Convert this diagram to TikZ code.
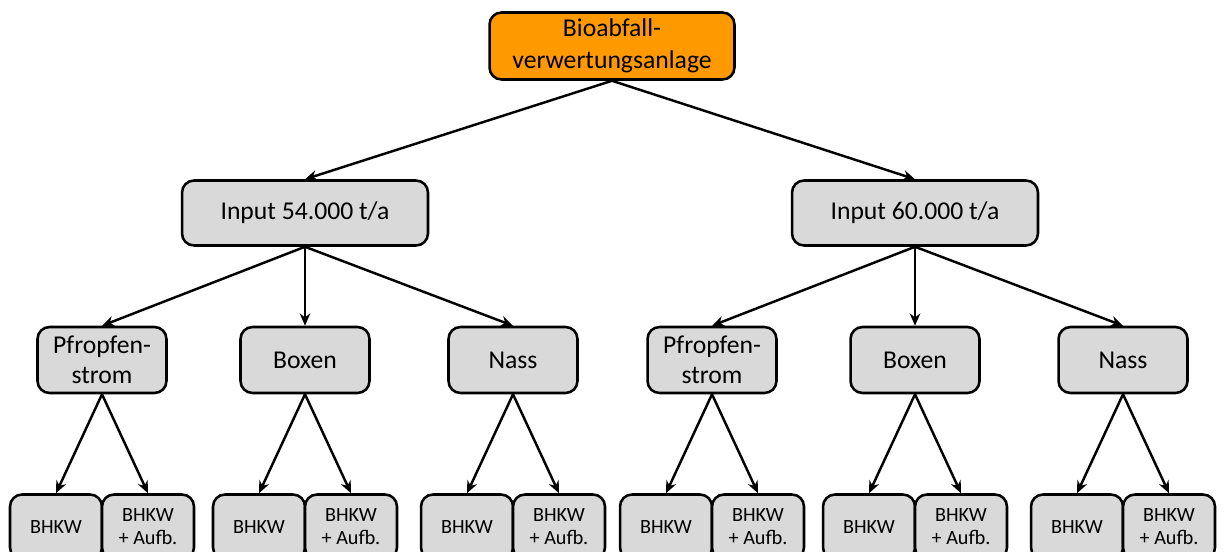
\documentclass[tikz,border=0pt]{standalone}
\usepackage{fontspec}
\setmainfont{Carlito}
\usetikzlibrary{arrows.meta}
\definecolor{kastengrau}{RGB}{217,217,217}
\definecolor{anlageorange}{RGB}{255,153,0}

\begin{document}
\begin{tikzpicture}[x=0.02cm,y=-0.02cm,
		kasten/.style={draw, line width=1.45pt, rounded corners=0.24cm, fill=kastengrau, align=center, inner sep=0pt, font=\fontsize{14.6}{17}\selectfont},
		blatt/.style={kasten, minimum width=1.84cm, minimum height=1.3cm, font=\fontsize{11.5}{13}\selectfont},
		pfeil/.style={-{Stealth[length=7pt,width=6pt]}, line width=1.4pt}]
	\useasboundingbox (0,0) rectangle (1229,551);
	% Anlage
	\node[kasten, fill=anlageorange, minimum width=4.9cm, minimum height=1.34cm, font=\fontsize{14.6}{18}\selectfont] (anlage) at (612,46) {Bioabfall-\\verwertungsanlage};
	% Input
	\node[kasten, minimum width=4.92cm, minimum height=1.3cm] (inA) at (305,213) {Input 54.000 t/a};
	\node[kasten, minimum width=4.92cm, minimum height=1.3cm] (inB) at (915,213) {Input 60.000 t/a};
	\draw[pfeil] (anlage.south) -- (inA.north);
	\draw[pfeil] (anlage.south) -- (inB.north);
	% Verfahren
	\foreach \s/\x in {A/0,B/610}{
		\node[kasten, minimum width=2.58cm, minimum height=1.32cm] (pf\s) at (102+\x,360) {Pfropfen-\\strom};
		\node[kasten, minimum width=2.58cm, minimum height=1.32cm] (bo\s) at (305+\x,360) {Boxen};
		\node[kasten, minimum width=2.58cm, minimum height=1.32cm] (na\s) at (513+\x,360) {Nass};
		\draw[pfeil] (in\s.south) -- (pf\s.north);
		\draw[pfeil] (in\s.south) -- (bo\s.north);
		\draw[pfeil] (in\s.south) -- (na\s.north);
	}
	% BHKW
	\foreach \v in {pfA,boA,naA,pfB,boB,naB}{
		\node[blatt] (\v1) at ([xshift=-0.92cm]\v.center |- 0,527) {BHKW};
		\node[blatt] (\v2) at ([xshift=0.92cm]\v.center |- 0,527) {BHKW\\+ Aufb.};
		\draw[pfeil] (\v.south) -- (\v1.north);
		\draw[pfeil] (\v.south) -- (\v2.north);
	}
\end{tikzpicture}
\end{document}
